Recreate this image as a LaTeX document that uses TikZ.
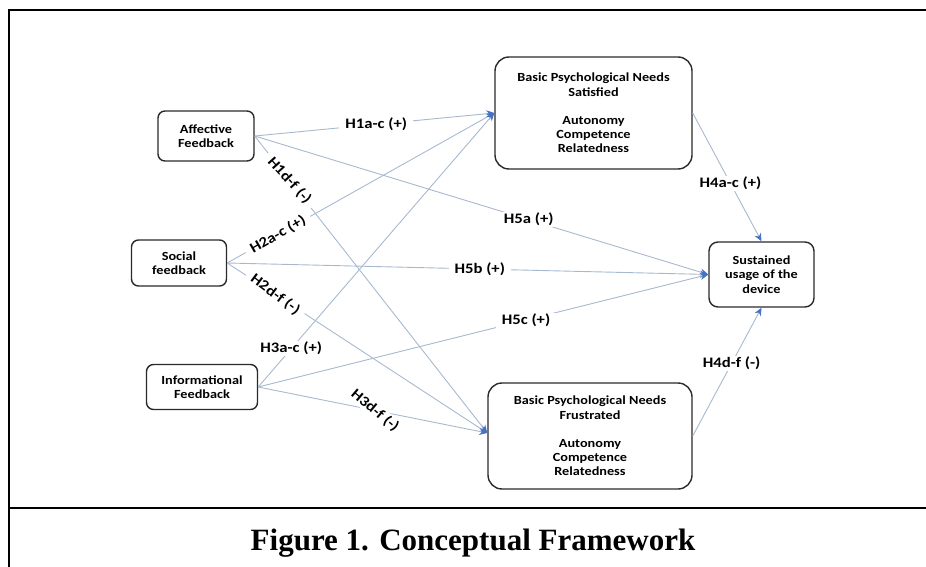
\documentclass[tikz,border=0pt]{standalone}
\usepackage{fontspec}
\setmainfont{Liberation Serif}
\newfontfamily\boxfont[FakeStretch=1.15]{Carlito}
\usetikzlibrary{arrows.meta}
\definecolor{linec}{HTML}{A7B9CF}
\definecolor{tipc}{HTML}{4472C4}
\definecolor{boxc}{HTML}{2A2A2A}
\begin{document}
\begin{tikzpicture}[x=1pt,y=-1pt,
 box/.style={draw=boxc,line width=1.4pt,rounded corners=7pt,fill=white,inner sep=0pt,align=center,
   font=\boxfont\bfseries\fontsize{12.4}{14.2}\selectfont},
 bigbox/.style={box,rounded corners=14pt},
 conn/.style={draw=linec,line width=0.9pt,-{Stealth[length=8pt,width=7pt,color=tipc]}},
 lab/.style={fill=white,inner xsep=6pt,inner ysep=1pt,font=\boxfont\bfseries\fontsize{14.5}{16}\selectfont},
 frame/.style={draw=black,line width=2.2pt}
]
\useasboundingbox (0,0) rectangle (926,567);
\draw[frame] (9,567) -- (9,10) -- (926,10);
\draw[frame] (9,508) -- (926,508);

\node[box,minimum width=96pt,minimum height=50pt] (aff) at (206,136) {Affective\\Feedback};
\node[box,minimum width=95pt,minimum height=46pt] (soc) at (179,263) {Social\\feedback};
\node[box,minimum width=111pt,minimum height=45pt] (inf) at (202,387) {Informational\\Feedback};
\node[bigbox,minimum width=197pt,minimum height=112pt] (sat) at (593.5,113)
  {Basic Psychological Needs\\Satisfied\\[14pt]Autonomy\\Competence\\Relatedness};
\node[bigbox,minimum width=204pt,minimum height=106pt] (fru) at (590,436)
  {Basic Psychological Needs\\Frustrated\\[14pt]Autonomy\\Competence\\Relatedness};
\node[box,rounded corners=9pt,minimum width=105pt,minimum height=65pt] (sus) at (761.5,274.5)
  {Sustained\\usage of the\\device};

\coordinate (fruin) at ([yshift=3pt]fru.west);

\draw[conn] (aff.east) -- node[lab,pos=0.507]{H1a-c (+)} (sat.west);
\draw[conn] (aff.east) -- node[lab,pos=0.604]{H5a (+)} (sus.west);
\draw[conn] (aff.east) -- node[lab,pos=0.15,rotate=-48]{H1d-f (-)} (fruin);
\draw[conn] (soc.east) -- node[lab,pos=0.19,rotate=30]{H2a-c (+)} (sat.west);
\draw[conn] (soc.east) -- node[lab,pos=0.525]{H5b (+)} (sus.west);
\draw[conn] (soc.east) -- node[lab,pos=0.185,rotate=-37]{H2d-f (-)} (fruin);
\draw[conn] (inf.east) -- node[lab,pos=0.14]{H3a-c (+)} (sat.west);
\draw[conn] (inf.east) -- node[lab,pos=0.595]{H5c (+)} (sus.west);
\draw[conn] (inf.east) -- node[lab,pos=0.51,rotate=-40]{H3d-f (-)} (fruin);
\draw[conn] (sat.east) -- node[lab,pos=0.55]{H4a-c (+)} (sus.north);
\draw[conn] (fru.east) -- node[lab,pos=0.566]{H4d-f (-)} (sus.south);

\node[font=\bfseries\fontsize{31}{36}\selectfont,anchor=base,inner sep=0pt] (cap) at (473,550)
  {Figure 1. Conceptual Framework};
\end{tikzpicture}
\end{document}
